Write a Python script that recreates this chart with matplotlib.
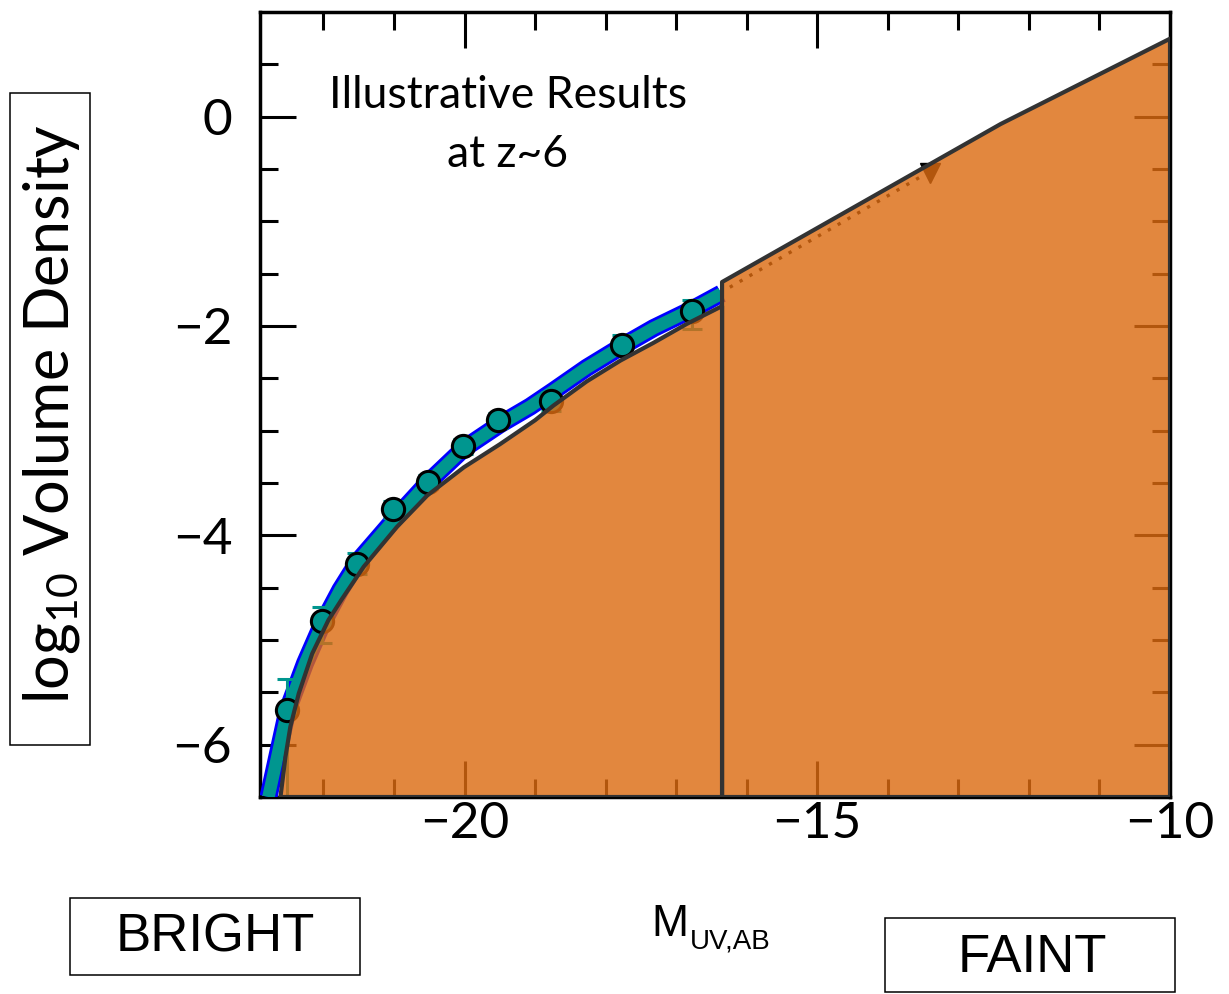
import numpy as np
import matplotlib.pyplot as plt
from matplotlib.patches import Rectangle, Polygon

# binned data points: M_UV, log10 density, errors
mag_pts = [-22.52, -22.02, -21.52, -21.02, -20.52, -20.02, -19.52, -18.77, -17.77, -16.77]
phi_pts = [-5.67, -4.82, -4.27, -3.75, -3.49, -3.15, -2.90, -2.72, -2.18, -1.86]
err_up = [0.30, 0.14, 0.10, 0.08, 0.07, 0.07, 0.07, 0.09, 0.09, 0.11]
err_lo = [1.50, 0.21, 0.10, 0.08, 0.07, 0.07, 0.07, 0.09, 0.09, 0.17]

# fitted LF band (centre line)
band_mag = [-22.78, -22.51, -22.26, -22.02, -21.76, -21.50, -21.00, -20.51, -20.01,
            -19.50, -19.07, -18.74, -18.27, -17.76, -17.32, -16.77, -16.36]
band_phi = [-6.50, -5.67, -5.22, -4.85, -4.52, -4.24, -3.85, -3.49, -3.17,
            -2.94, -2.77, -2.62, -2.40, -2.19, -2.02, -1.84, -1.69]

# orange region, bright part (upper edge)
bright_mag = [-22.61, -22.54, -22.47, -22.35, -22.16, -21.93, -21.74, -21.43, -20.96,
              -20.53, -20.01, -19.50, -19.00, -18.74, -18.27, -17.79, -17.32, -16.85, -16.35]
bright_phi = [-6.50, -6.12, -5.83, -5.51, -5.13, -4.81, -4.61, -4.30, -3.92,
              -3.62, -3.35, -3.13, -2.90, -2.76, -2.53, -2.33, -2.16, -1.98, -1.81]

# orange region, faint extrapolation (upper edge)
faint_mag = [-16.35, -12.40, -10.0]
faint_phi = [-1.58, -0.07, 0.745]

# dotted arrow
arrow_mag = [-16.24, -13.55]
arrow_phi = [-1.63, -0.58]
arrow_head = (-13.40, -0.535)

ymin, ymax = -6.5, 1.0
xmin, xmax = -22.9, -10.0

fill_col = (220/255, 107/255, 17/255)
teal = '#00968F'
edge = '#333333'

W, H = 1229, 994
fig = plt.figure(figsize=(W/100, H/100), dpi=100)
ax = fig.add_axes([260/W, 1-797/H, 910/W, 785/H])

ax.set_xlim(xmin, xmax)
ax.set_ylim(ymin, ymax)
ax.set_xticks([-20, -15, -10])
ax.set_xticklabels(['\u221220', '\u221215', '\u221210'])
ax.set_xticks(np.arange(-22, -10, 1), minor=True)
ax.set_yticks([0, -2, -4, -6])
ax.set_yticklabels(['0', '\u22122', '\u22124', '\u22126'])
ax.set_yticks(np.arange(-6.5, 1.0, 0.5), minor=True)
ax.tick_params(which='both', direction='in', top=True, right=True, width=2.2, color='black')
ax.tick_params(which='major', length=26)
ax.tick_params(which='minor', length=13)
ax.tick_params(axis='y', which='major', labelsize=37, pad=20)
ax.tick_params(axis='x', which='major', labelsize=37, pad=3)
for lab in ax.get_xticklabels() + ax.get_yticklabels():
    lab.set_family(['Lato', 'DejaVu Sans'])
    lab.set_fontweight('normal')
for sp in ax.spines.values():
    sp.set_linewidth(2.5)

# LF band: blue outline with teal core
ax.plot(band_mag, band_phi, color='blue', lw=13, solid_capstyle='butt', zorder=2.6)
ax.plot(band_mag, band_phi, color=teal, lw=9, solid_capstyle='butt', zorder=2.65)

# data points
ax.errorbar(mag_pts, phi_pts, yerr=[err_lo, err_up], fmt='none', ecolor=teal,
            elinewidth=2.2, capsize=7, capthick=2.2, zorder=2.7)
ax.plot(mag_pts, phi_pts, 'o', ms=16, mfc=teal, mec='black', mew=2.2, zorder=2.75)

# dotted arrow (sits under the orange fill)
ax.plot(arrow_mag, arrow_phi, color='black', lw=2.4, dashes=(1, 2.4), zorder=2.8)
ax.plot([arrow_head[0]], [arrow_head[1]], marker='v', ms=15, color='black', zorder=2.8)

# orange regions
left_poly = list(zip(bright_mag, bright_phi)) + [(bright_mag[-1], ymin)]
right_poly = [(faint_mag[0], ymin)] + list(zip(faint_mag, faint_phi)) + [(faint_mag[-1], ymin)]
for poly in (left_poly, right_poly):
    ax.add_patch(Polygon(poly, closed=True, facecolor=fill_col, alpha=0.81,
                         edgecolor='none', zorder=3))
    ax.add_patch(Polygon(poly, closed=True, facecolor='none', edgecolor=edge,
                         lw=3, joinstyle='round', zorder=3.5))

ax.text(0.2725, 0.856, 'Illustrative Results\nat z~6', transform=ax.transAxes,
        ha='center', va='center', fontsize=32, family=['Lato', 'DejaVu Sans'],
        linespacing=1.55, zorder=5)

# labels and boxes outside the axes
def fx(px):
    return px / W

def fy(py):
    return 1 - py / H

for x0, y0, x1, y1 in [(10, 93, 90, 745), (70, 898, 360, 975), (885, 918, 1175, 992)]:
    fig.patches.append(Rectangle((fx(x0), fy(y1)), fx(x1) - fx(x0), fy(y0) - fy(y1),
                                 transform=fig.transFigure, fill=False,
                                 edgecolor='black', lw=1.1))

fig.text(fx(52), fy(414), r'log$\mathregular{_{10}}$ Volume Density', rotation=90,
         ha='center', va='center', fontsize=44, family=['Lato', 'DejaVu Sans'])
fig.text(fx(215), fy(938), 'BRIGHT', ha='center', va='center', fontsize=38,
         family=['Liberation Sans', 'DejaVu Sans'])
fig.text(fx(1032), fy(958), 'FAINT', ha='center', va='center', fontsize=38,
         family=['Liberation Sans', 'DejaVu Sans'])
fig.text(fx(670), fy(925), 'M', ha='center', va='center', fontsize=32,
         family=['Liberation Sans', 'DejaVu Sans'])
fig.text(fx(690), fy(942), 'UV,AB', ha='left', va='center', fontsize=20,
         family=['Liberation Sans', 'DejaVu Sans'])

fig.savefig('out.png', dpi=100)
